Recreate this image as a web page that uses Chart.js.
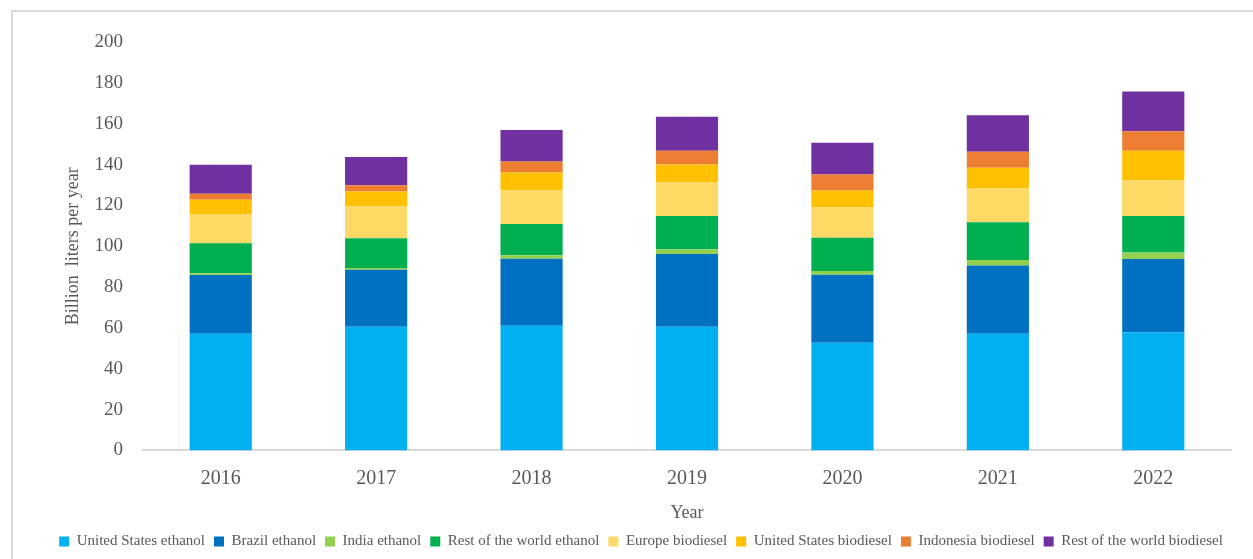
<!DOCTYPE html>
<html lang="en">
<head>
    <meta charset="UTF-8">
    <title>Biofuel production</title>
    <script src="https://cdn.jsdelivr.net/npm/chart.js"></script>
    <style>
        body { margin: 0; background: #fff; }
        .box { position: relative; width: 1253px; height: 559px; }
    </style>
</head>
<body>
<div class="box">
    <canvas id="grafico" width="1253" height="559"></canvas>
</div>

<script>
    // dados (bilhões de litros por ano)
    const anos = ['2016', '2017', '2018', '2019', '2020', '2021', '2022'];

    const usEtanol      = [57.1, 60.5, 61.0, 60.5, 52.7, 57.1, 57.9];
    const brasilEtanol  = [28.8, 28.0, 32.8, 35.7, 33.3, 33.5, 35.8];
    const indiaEtanol   = [0.9, 0.8, 1.8, 2.3, 1.8, 2.6, 3.2];
    const restoEtanol   = [14.7, 14.6, 15.3, 16.3, 16.3, 18.5, 17.9];
    const europaBio     = [14.3, 15.6, 16.4, 16.4, 14.9, 16.6, 17.4];
    const usBio         = [7.0, 7.3, 8.8, 8.8, 8.3, 10.1, 14.6];
    const indonesiaBio  = [2.9, 3.0, 5.4, 6.8, 7.8, 7.8, 9.5];
    const restoBio      = [14.2, 13.9, 15.4, 16.6, 15.6, 17.9, 19.5];

    const ticksY = [0, 20, 40, 60, 80, 100, 120, 140, 160, 180, 200];

    const fonte = 'Liberation Serif, Times New Roman, serif';
    const cinza = '#595959';

    function serie(nome, valores, cor) {
        return {
            label: nome,
            data: valores,
            backgroundColor: cor,
            borderWidth: 0,
            barPercentage: 0.4,
            categoryPercentage: 1.0
        };
    }

    // moldura cinza em volta do gráfico
    const moldura = {
        id: 'moldura',
        beforeDraw(chart) {
            const ctx = chart.ctx;
            ctx.save();
            ctx.strokeStyle = '#d9d9d9';
            ctx.lineWidth = 2;
            ctx.beginPath();
            ctx.moveTo(12, 600);
            ctx.lineTo(12, 11);
            ctx.lineTo(1300, 11);
            ctx.stroke();
            ctx.restore();
        }
    };

    new Chart(document.getElementById('grafico'), {
        type: 'bar',
        data: {
            labels: anos,
            datasets: [
                serie('United States ethanol', usEtanol, '#00b0f0'),
                serie('Brazil ethanol', brasilEtanol, '#0070c0'),
                serie('India ethanol', indiaEtanol, '#92d050'),
                serie('Rest of the world ethanol', restoEtanol, '#00b050'),
                serie('Europe biodiesel', europaBio, '#ffd966'),
                serie('United States biodiesel', usBio, '#ffc000'),
                serie('Indonesia biodiesel', indonesiaBio, '#ed7d31'),
                serie('Rest of the world biodiesel', restoBio, '#7030a0')
            ]
        },
        options: {
            responsive: false,
            animation: false,
            layout: { padding: { top: 42, right: 0, bottom: 0, left: 29 } },
            plugins: {
                tooltip: { enabled: false },
                legend: {
                    position: 'bottom',
                    labels: {
                        boxWidth: 10,
                        boxHeight: 10,
                        padding: 9,
                        color: cinza,
                        font: { family: fonte, size: 15 }
                    }
                }
            },
            scales: {
                x: {
                    stacked: true,
                    grid: { display: false },
                    border: { color: '#d9d9d9', width: 2 },
                    ticks: { color: cinza, padding: 8, font: { family: fonte, size: 20 } },
                    title: {
                        display: true,
                        text: 'Year',
                        color: cinza,
                        padding: { top: 4, bottom: 1 },
                        font: { family: fonte, size: 18 }
                    }
                },
                y: {
                    stacked: true,
                    min: 0,
                    max: 200,
                    afterBuildTicks: s => { s.ticks = ticksY.map(v => ({ value: v })); },
                    afterFit: s => { s.width = 143 - 29; },
                    grid: { display: false },
                    border: { display: false },
                    ticks: { color: cinza, padding: 12, font: { family: fonte, size: 19 } },
                    title: {
                        display: true,
                        text: 'Billion  liters per year',
                        color: cinza,
                        padding: { top: 33, bottom: 0 },
                        font: { family: fonte, size: 18 }
                    }
                },
                // eixo vazio só para reservar a margem direita
                margem: {
                    type: 'linear',
                    position: 'right',
                    display: true,
                    afterFit: s => { s.width = 22; },
                    grid: { display: false },
                    border: { display: false },
                    ticks: { display: false }
                }
            }
        },
        plugins: [moldura]
    });
</script>
</body>
</html>
